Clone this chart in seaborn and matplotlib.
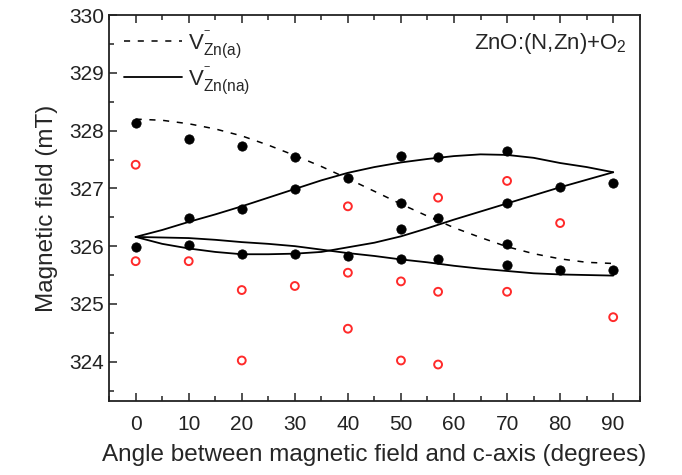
import matplotlib
matplotlib.use("Agg")
import matplotlib.pyplot as plt
import seaborn as sns
import pandas as pd
from matplotlib.ticker import MultipleLocator
from matplotlib.lines import Line2D

sns.set_style("ticks")
plt.rcParams['font.family'] = ['Liberation Sans', 'DejaVu Sans']
plt.rcParams['mathtext.fontset'] = 'custom'
plt.rcParams['mathtext.rm'] = 'Liberation Sans'
plt.rcParams['mathtext.it'] = 'Liberation Sans'

# measured points (filled black)
exp_angle = [0, 0, 10, 10, 10, 20, 20, 20, 30, 30, 30, 40, 40,
             50, 50, 50, 50, 57, 57, 57, 70, 70, 70, 70, 80, 80, 90, 90]
exp_field = [328.14, 325.98, 327.85, 326.49, 326.02, 327.74, 326.64, 325.86,
             327.55, 326.99, 325.87, 327.18, 325.83,
             327.57, 326.74, 326.30, 325.78, 327.54, 326.49, 325.77,
             327.65, 326.74, 326.03, 325.67, 327.02, 325.58, 327.09, 325.58]

# open red circles
red_angle = [0, 0, 10, 20, 20, 30, 40, 40, 40, 50, 50, 57, 57, 57, 70, 70, 80, 90]
red_field = [327.41, 325.74, 325.74, 325.24, 324.02, 325.31, 326.69, 325.54, 324.57,
             325.39, 324.02, 326.84, 325.21, 323.95, 327.13, 325.21, 326.40, 324.77]

# simulated curves every 5 degrees
curve_angle = [0, 5, 10, 15, 20, 25, 30, 35, 40, 45, 50, 55, 60, 65, 70, 75, 80, 85, 90]
vzn_a = [328.20, 328.18, 328.12, 328.03, 327.91, 327.75, 327.57, 327.38, 327.17, 326.95,
         326.73, 326.52, 326.32, 326.15, 325.99, 325.87, 325.78, 325.72, 325.70]
vzn_na_1 = [326.16, 326.28, 326.42, 326.55, 326.69, 326.84, 326.99, 327.14, 327.27, 327.37,
            327.45, 327.51, 327.56, 327.59, 327.58, 327.53, 327.44, 327.37, 327.28]
vzn_na_2 = [326.16, 326.04, 325.96, 325.90, 325.86, 325.86, 325.87, 325.90, 325.98, 326.06,
            326.17, 326.31, 326.46, 326.60, 326.74, 326.88, 327.02, 327.15, 327.28]
vzn_na_3 = [326.16, 326.15, 326.14, 326.11, 326.07, 326.04, 326.00, 325.94, 325.88, 325.83,
            325.77, 325.72, 325.66, 325.61, 325.57, 325.53, 325.51, 325.50, 325.49]

fig, ax = plt.subplots(figsize=(6.82, 4.75), dpi=100)
fig.subplots_adjust(left=0.16, right=0.938, top=0.968, bottom=0.156)

curves = pd.DataFrame({'angle': curve_angle, 'a': vzn_a, 'n1': vzn_na_1,
                       'n2': vzn_na_2, 'n3': vzn_na_3})
sns.lineplot(data=curves, x='angle', y='a', ax=ax, color='black', lw=1.1,
             linestyle=(0, (4, 5)))
for col in ['n1', 'n2', 'n3']:
    sns.lineplot(data=curves, x='angle', y=col, ax=ax, color='black', lw=1.3)

sns.scatterplot(x=exp_angle, y=exp_field, ax=ax, color='black', s=45,
                edgecolor='black', zorder=3)
sns.scatterplot(x=red_angle, y=red_field, ax=ax, facecolor='none', s=32,
                edgecolor='#ff2a2a', linewidth=1.4, zorder=3)

ax.set_xlim(-5, 95)
ax.set_ylim(323.32, 330)
ax.xaxis.set_major_locator(MultipleLocator(10))
ax.xaxis.set_minor_locator(MultipleLocator(5))
ax.yaxis.set_major_locator(MultipleLocator(1))
ax.yaxis.set_minor_locator(MultipleLocator(0.5))
ax.tick_params(which='both', direction='in', top=True, right=False, width=1.1,
               labelsize=15, colors='#222222')
ax.tick_params(which='major', length=6)
ax.tick_params(which='minor', length=3.5)
ax.tick_params(axis='x', pad=10)
for sp in ax.spines.values():
    sp.set_linewidth(1.3)
    sp.set_color('#222222')

ax.set_xlabel('Angle between magnetic field and c-axis (degrees)', fontsize=17.5, labelpad=7)
ax.set_ylabel('Magnetic field (mT)', fontsize=17.5, labelpad=8)

handles = [Line2D([], [], color='black', lw=1.1, linestyle=(0, (4, 5))),
           Line2D([], [], color='black', lw=1.3)]
labels = [r'V$^{^{-}}_{\mathrm{Zn(a)}}$', r'V$^{^{-}}_{\mathrm{Zn(na)}}$']
ax.legend(handles, labels, loc='upper left', frameon=False, fontsize=16,
          handlelength=2.6, handletextpad=0.3, labelspacing=0.2,
          bbox_to_anchor=(-0.01, 1.015))

ax.text(0.975, 0.96, r'ZnO:(N,Zn)+O$_2$', transform=ax.transAxes, ha='right',
        va='top', fontsize=16)

fig.savefig('out.png', dpi=100)
